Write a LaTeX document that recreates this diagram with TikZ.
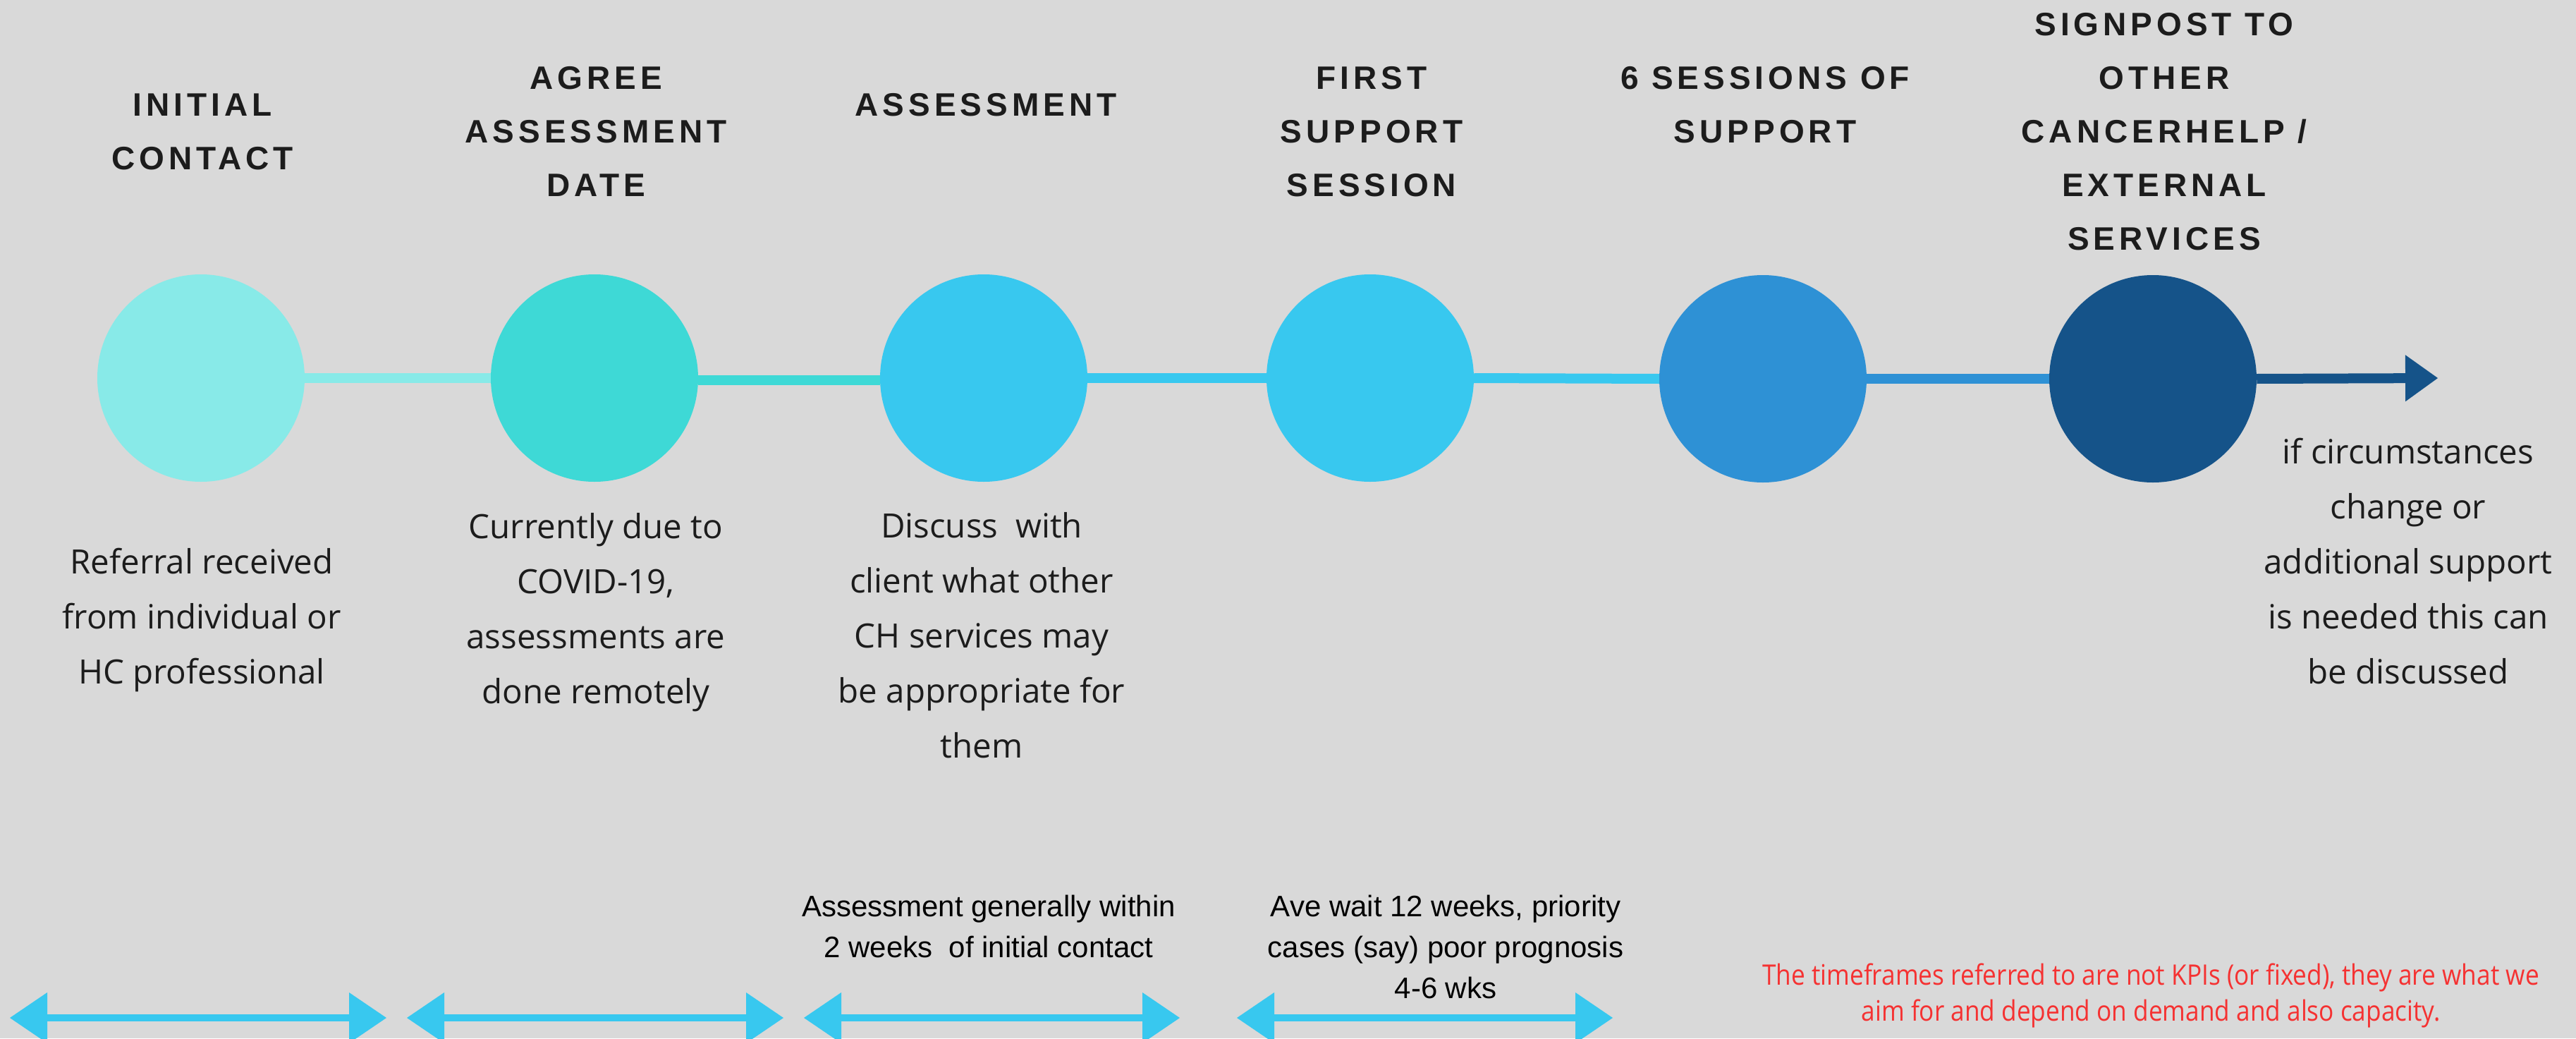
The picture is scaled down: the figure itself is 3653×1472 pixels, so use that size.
\documentclass[tikz,border=0pt]{standalone}
\usepackage{fontspec}
\setmainfont{Open Sans}
\newfontfamily\titlefont{Liberation Sans}[LetterSpace=13]
\newfontfamily\bodyfont{Open Sans}
\newfontfamily\timefont{Liberation Sans}
\newfontfamily\notefont{Open Sans}[FakeStretch=0.88]
\usetikzlibrary{arrows.meta}
\definecolor{bg}{HTML}{D9D9D9}
\definecolor{cA}{HTML}{88EAE8}
\definecolor{cB}{HTML}{3ED9D6}
\definecolor{cC}{HTML}{38C8EF}
\definecolor{cD}{HTML}{2E91D5}
\definecolor{cE}{HTML}{155389}
\definecolor{ink}{HTML}{1C1C1C}
\definecolor{warn}{HTML}{F53232}
\begin{document}
\begin{tikzpicture}[x=1pt,y=-1pt,
  stage/.style={circle,minimum size=294pt,inner sep=0pt,draw=none},
  seg/.style={line width=14pt},
  ttl/.style={align=center,inner sep=0pt,anchor=base,text=ink,
    font=\titlefont\bfseries\fontsize{46}{76}\selectfont},
  body/.style={align=center,inner sep=0pt,anchor=base,text=ink,
    font=\bodyfont\fontsize{47.5}{78}\selectfont},
  tframe/.style={align=center,inner sep=0pt,anchor=base,text=black,
    font=\timefont\fontsize{42}{58}\selectfont},
  note/.style={align=center,inner sep=0pt,anchor=base,text=warn,
    font=\notefont\fontsize{40}{51}\selectfont},
  span/.style={line width=10pt,draw=cC,
    {Triangle[length=53pt,width=72pt,line width=0pt]}-{Triangle[length=53pt,width=72pt,line width=0pt]}}
]
\useasboundingbox (0,0) rectangle (3653,1472);
\fill[bg] (0,0) rectangle (3653,1472);

% stages
\node[stage,fill=cA] (s1) at (285,536) {};
\node[stage,fill=cB] (s2) at (843,536) {};
\node[stage,fill=cC] (s3) at (1395,536) {};
\node[stage,fill=cC] (s4) at (1943,536) {};
\node[stage,fill=cD] (s5) at (2500,537) {};
\node[stage,fill=cE] (s6) at (3053,537) {};
\coordinate (tip) at (3457,536);

% timeline segments
\draw[seg,draw=cA] (s1.east) -- (s2.west);
\draw[seg,draw=cB] ([yshift=-3pt]s2.east) -- ([yshift=-3pt]s3.west);
\draw[seg,draw=cC] (s3.east) -- (s4.west);
\draw[seg,draw=cC] (s4.east) -- (s5.west);
\draw[seg,draw=cD] (s5.east) -- (s6.west);
\draw[seg,draw=cE,-{Triangle[length=46pt,width=66pt,line width=0pt]}] (s6.east) -- (tip);

% titles (anchor = baseline of last line)
\node[ttl] (t1) at (287,240) {INITIAL\\CONTACT};
\node[ttl] (t2) at (845,278) {AGREE\\ASSESSMENT\\DATE};
\node[ttl] (t3) at (1398,164) {ASSESSMENT};
\node[ttl] (t4) at (1945,278) {FIRST\\SUPPORT\\SESSION};
\node[ttl] (t5) at (2503,202) {6 SESSIONS OF\\SUPPORT};
\node[ttl] (t6) at (3069,354) {SIGNPOST TO\\OTHER\\CANCERHELP /\\EXTERNAL\\SERVICES};

% descriptions
\node[body] (b1) at (286,969) {Referral received\\from individual or\\HC professional};
\node[body] (b2) at (845,997) {Currently due to\\COVID-19,\\assessments are\\done remotely};
\node[body] (b3) at (1392,1074) {Discuss\ \ with\\client what other\\CH services may\\be appropriate for\\them};
\node[body] (b6) at (3415,969) {if circumstances\\change or\\additional support\\is needed this can\\be discussed};

% timeframes
\node[tframe] (f3) at (1402,1357) {Assessment generally within\\2 weeks\ \ of initial contact};
\node[tframe] (f4) at (2050,1415) {Ave wait 12 weeks, priority\\cases (say) poor prognosis\\4-6 wks};
\node[note] (n1) at (3050,1447) {The timeframes referred to are not KPIs (or fixed), they are what we\\aim for and depend on demand and also capacity.};

% span arrows
\coordinate (a1l) at (14,1443);   \coordinate (a1r) at (548,1443);
\coordinate (a2l) at (577,1443);  \coordinate (a2r) at (1111,1443);
\coordinate (a3l) at (1140,1443); \coordinate (a3r) at (1673,1443);
\coordinate (a4l) at (1754,1443); \coordinate (a4r) at (2287,1443);
\draw[span] (a1l) -- (a1r);
\draw[span] (a2l) -- (a2r);
\draw[span] (a3l) -- (a3r);
\draw[span] (a4l) -- (a4r);
\end{tikzpicture}
\end{document}
